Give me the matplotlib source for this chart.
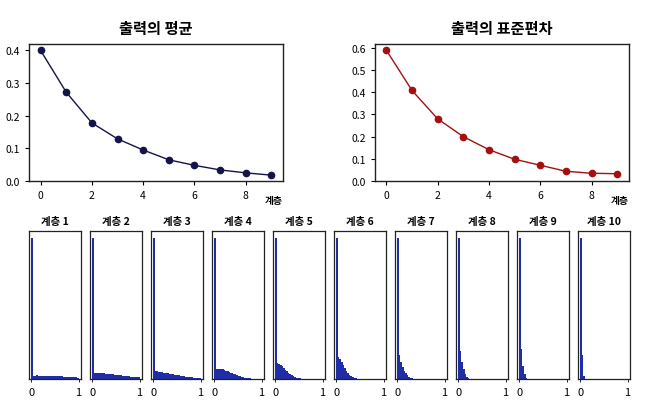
import numpy as np
import matplotlib
matplotlib.use('Agg')
import matplotlib.pyplot as plt
from matplotlib.ticker import MultipleLocator

plt.rcParams['font.family'] = ['Noto Sans CJK KR', 'DejaVu Sans']

# 층별 출력의 평균 / 표준편차
layers = np.arange(10)
out_mean = [0.400, 0.272, 0.178, 0.129, 0.095, 0.065, 0.048, 0.034, 0.025, 0.018]
out_std = [0.589, 0.408, 0.280, 0.200, 0.141, 0.098, 0.071, 0.044, 0.035, 0.033]

# 각 층 활성화값 히스토그램 (30개 구간, 0~1), 첫 구간 높이를 1로 둔 상대값
hist_1 = [1.0, 0.025, 0.025, 0.026, 0.025, 0.025, 0.024, 0.025, 0.025, 0.024,
          0.025, 0.024, 0.025, 0.024, 0.024, 0.025, 0.024, 0.024, 0.023, 0.023,
          0.014, 0.013, 0.013, 0.013, 0.012, 0.013, 0.012, 0.012, 0.012, 0.011]
hist_2 = [1.0, 0.046, 0.045, 0.044, 0.043, 0.042, 0.041, 0.040, 0.039, 0.038,
          0.036, 0.035, 0.034, 0.033, 0.031, 0.030, 0.029, 0.028, 0.026, 0.025,
          0.024, 0.022, 0.021, 0.020, 0.018, 0.017, 0.016, 0.014, 0.013, 0.012]
hist_3 = [1.0, 0.055, 0.054, 0.052, 0.050, 0.048, 0.046, 0.044, 0.042, 0.040,
          0.038, 0.036, 0.034, 0.032, 0.030, 0.028, 0.026, 0.024, 0.022, 0.020,
          0.018, 0.016, 0.015, 0.013, 0.012, 0.010, 0.009, 0.008, 0.007, 0.006]
hist_4 = [1.0, 0.072, 0.072, 0.071, 0.070, 0.068, 0.065, 0.060, 0.055, 0.050,
          0.046, 0.042, 0.038, 0.033, 0.028, 0.024, 0.020, 0.016, 0.013, 0.010,
          0.008, 0.006, 0.005, 0.004, 0.003, 0.002, 0.002, 0.001, 0.001, 0.001]
hist_5 = [1.0, 0.115, 0.110, 0.100, 0.090, 0.078, 0.066, 0.055, 0.045, 0.036,
          0.028, 0.021, 0.015, 0.011, 0.008, 0.006, 0.004, 0.003, 0.002, 0.0015,
          0.001, 0.0, 0.0, 0.0, 0.0, 0.0, 0.0, 0.0, 0.0, 0.0]
hist_6 = [1.0, 0.155, 0.140, 0.120, 0.100, 0.080, 0.060, 0.045, 0.032, 0.022,
          0.014, 0.009, 0.006, 0.004, 0.003, 0.002, 0.001, 0.0, 0.0, 0.0,
          0.0, 0.0, 0.0, 0.0, 0.0, 0.0, 0.0, 0.0, 0.0, 0.0]
hist_7 = [1.0, 0.170, 0.120, 0.085, 0.060, 0.040, 0.026, 0.016, 0.010, 0.006,
          0.003, 0.002, 0.001, 0.0, 0.0, 0.0, 0.0, 0.0, 0.0, 0.0,
          0.0, 0.0, 0.0, 0.0, 0.0, 0.0, 0.0, 0.0, 0.0, 0.0]
hist_8 = [1.0, 0.200, 0.120, 0.070, 0.035, 0.015, 0.006, 0.002, 0.0, 0.0,
          0.0, 0.0, 0.0, 0.0, 0.0, 0.0, 0.0, 0.0, 0.0, 0.0,
          0.0, 0.0, 0.0, 0.0, 0.0, 0.0, 0.0, 0.0, 0.0, 0.0]
hist_9 = [1.0, 0.210, 0.095, 0.035, 0.010, 0.003, 0.0, 0.0, 0.0, 0.0,
          0.0, 0.0, 0.0, 0.0, 0.0, 0.0, 0.0, 0.0, 0.0, 0.0,
          0.0, 0.0, 0.0, 0.0, 0.0, 0.0, 0.0, 0.0, 0.0, 0.0]
hist_10 = [1.0, 0.170, 0.023, 0.004, 0.0, 0.0, 0.0, 0.0, 0.0, 0.0,
           0.0, 0.0, 0.0, 0.0, 0.0, 0.0, 0.0, 0.0, 0.0, 0.0,
           0.0, 0.0, 0.0, 0.0, 0.0, 0.0, 0.0, 0.0, 0.0, 0.0]
layer_hists = [hist_1, hist_2, hist_3, hist_4, hist_5,
               hist_6, hist_7, hist_8, hist_9, hist_10]
n_bins = 30

fig = plt.figure(figsize=(6.53, 4.10), dpi=100)

# 위쪽: 평균, 표준편차
ax_mean = fig.add_axes([0.0444, 0.556, 0.389, 0.334])
ax_std = fig.add_axes([0.574, 0.556, 0.389, 0.334])

for ax, values, color, title in [(ax_mean, out_mean, '#14144a', '출력의 평균'),
                                 (ax_std, out_std, '#a50f0f', '출력의 표준편차')]:
    ax.plot(layers, values, '-o', color=color, lw=1.0, ms=4.5)
    ax.set_ylim(0, None)
    ax.set_xticks([0, 2, 4, 6, 8])
    ax.yaxis.set_major_locator(MultipleLocator(0.1))
    ax.tick_params(labelsize=7.5, length=3, width=0.8)
    ax.set_title(title, fontsize=11, fontweight='bold', pad=8)
    ax.text(1.0, -0.1, '계층', transform=ax.transAxes, ha='right', va='top',
            fontsize=7, fontweight='bold')
    for s in ax.spines.values():
        s.set_linewidth(1.0)
        s.set_color('#222222')

# 아래쪽: 층별 히스토그램
bin_centers = (np.arange(n_bins) + 0.5) / n_bins
for i, h in enumerate(layer_hists):
    ax = fig.add_axes([0.0444 + i * 0.0934, 0.073, 0.0796, 0.361])
    ax.hist(bin_centers, bins=n_bins, range=(0, 1), weights=h, color='#1f2ea6')
    ax.set_yticks([])
    ax.set_xticks([0, 1])
    ax.set_xticklabels(['0', '1'])
    ax.tick_params(labelsize=8, length=2, width=0.6, pad=4)
    ax.set_title(f'계층 {i + 1}', fontsize=7.5, fontweight='bold', pad=5)
    for s in ax.spines.values():
        s.set_linewidth(0.9)
        s.set_color('#222222')

fig.savefig('out.png', dpi=100)
